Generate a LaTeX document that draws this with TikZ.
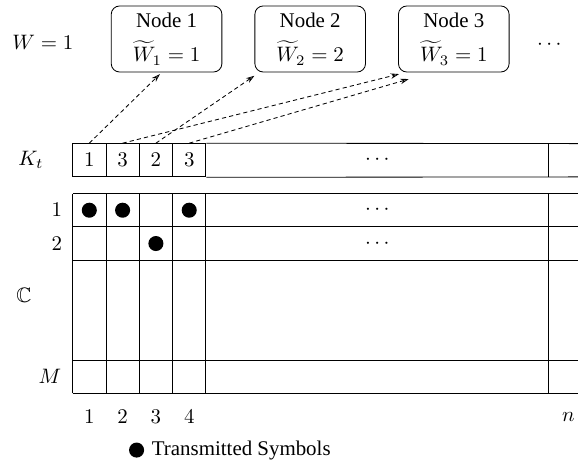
\documentclass[tikz,border=0pt]{standalone}
\usepackage{amsmath, amssymb}
\usepackage[no-math]{fontspec}
\setmainfont{Liberation Serif}
\usetikzlibrary{
  arrows.meta,
  calc,
  positioning
}
\tikzset{>={Stealth[open, length=4pt, width=2.6pt]}}
\tikzset{nodebox/.style={draw, thin, rounded corners=4pt, align=center,
    inner sep=1pt, minimum width=1.86cm, minimum height=1.11cm}}
\tikzset{cell/.style={draw, thin, minimum size=0.56cm, inner sep=0pt}}
\tikzset{txsym/.style={circle, fill=black, inner sep=0pt, minimum size=7.2pt}}
\tikzset{assign/.style={->, thin, dash pattern=on 2pt off 1.5pt}}

\begin{document}
\begin{tikzpicture}[x=0.56cm, y=0.56cm]
  \useasboundingbox (-2.18,-2.03) rectangle (15.17,11.81);

  % nodes and their weights
  \node[anchor=base] (wtot) at (-0.89,10.31) {$W=1$};
  \node[nodebox] (n1) at (2.82,10.64) {Node 1\\[4.5pt] $\widetilde{W}_1=1$};
  \node[nodebox, right=0.54cm of n1] (n2) {Node 2\\[4.5pt] $\widetilde{W}_2=2$};
  \node[nodebox, right=0.54cm of n2] (n3) {Node 3\\[4.5pt] $\widetilde{W}_3=1$};
  \node[anchor=base] (ndots) at (14.36,10.31) {$\cdots$};

  % the K_t row
  \node (kt) at (-1.25,7) {$K_t$};
  \node[cell] (k1) at (0.5,7) {$1$};
  \node[cell] (k2) at (1.5,7) {$3$};
  \node[cell] (k3) at (2.5,7) {$2$};
  \node[cell] (k4) at (3.5,7) {$3$};
  \draw[thin] (k4.north east) -- (15.17,7.5);
  \draw[thin] (k4.south east) -- (15.17,6.5);
  \draw[thin] (14.28,6.5) -- (14.28,7.5);
  \node at (9.2,7) {$\cdots$};

  % which node each slot goes to
  \coordinate (t1) at ($(n1.south)+(-0.2,-0.05)$);
  \coordinate (t2) at ($(n2.south west)+(0,-0.1)$);
  \coordinate (t3a) at ($(n3.south west)+(0.03,-0.05)$);
  \coordinate (t3b) at ($(n3.south west)+(0.32,-0.2)$);
  \draw[assign] (k1.north) -- (t1);
  \draw[assign] (k2.north) -- (t3a);
  \draw[assign] (k3.north) -- (t2);
  \draw[assign] (k4.north) -- (t3b);

  % channel grid
  \foreach \y in {0,1,4,5,6}
    \draw[thin] (0,\y) -- (15.17,\y);
  \foreach \x in {0,1,2,3,4,14.28}
    \draw[thin] (\x,0) -- (\x,6);
  \node at (9.2,5.5) {$\cdots$};
  \node at (9.2,4.5) {$\cdots$};

  \node at (-0.47,5.5) {$1$};
  \node at (-0.47,4.5) {$2$};
  \node at (-1.46,2.95) {$\mathbb{C}$};
  \node at (-0.68,0.5) {$M$};

  \node at (0.5,-0.7) {$1$};
  \node at (1.5,-0.7) {$2$};
  \node at (2.5,-0.7) {$3$};
  \node at (3.5,-0.7) {$4$};
  \node at (14.88,-0.7) {$n$};

  % transmitted symbols
  \node[txsym] (s1) at (0.5,5.5) {};
  \node[txsym] (s2) at (1.5,5.5) {};
  \node[txsym] (s3) at (2.5,4.5) {};
  \node[txsym] (s4) at (3.5,5.5) {};

  \node[txsym] (leg) at (1.92,-1.7) {};
  \node[right=0pt of leg] (legtxt) {Transmitted Symbols};
\end{tikzpicture}
\end{document}
